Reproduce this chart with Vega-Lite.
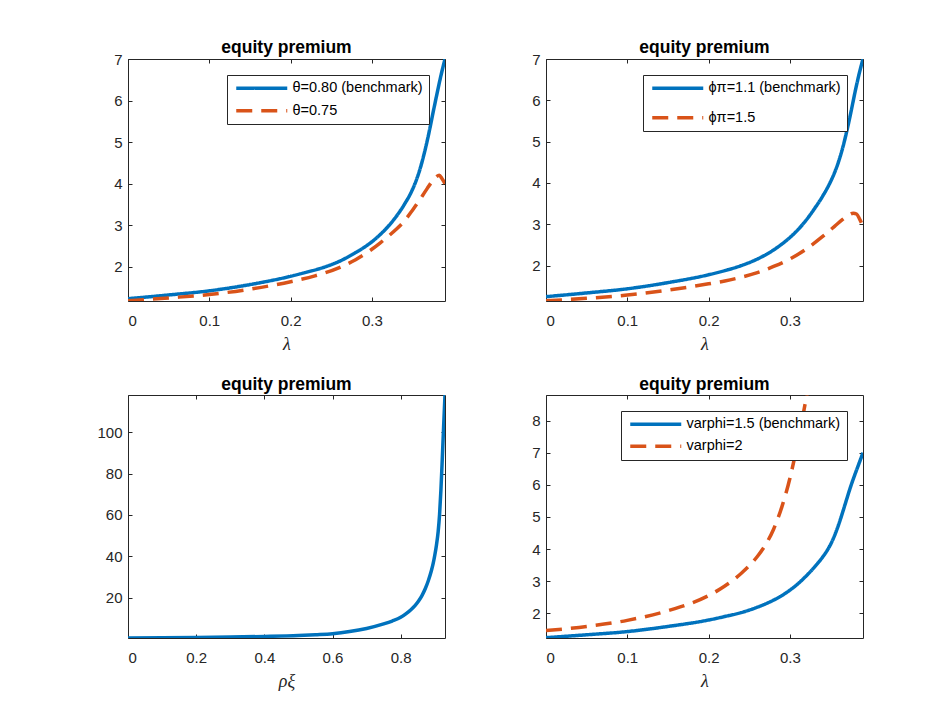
{
  "$schema": "https://vega.github.io/schema/vega-lite/v6.json",
  "background": "white",
  "padding": {"left": 96, "top": 38, "right": 10, "bottom": 5},
  "config": {
    "font": "Liberation Sans",
    "view": {"stroke": "#262626", "strokeWidth": 1},
    "axis": {
      "domain": false,
      "grid": false,
      "ticks": true,
      "tickColor": "#262626",
      "tickSize": -4,
      "tickWidth": 1,
      "labelColor": "#262626",
      "labelFont": "Liberation Sans",
      "labelFontSize": 15,
      "titleColor": "#262626",
      "titleFont": "Liberation Serif",
      "titleFontStyle": "italic",
      "titleFontWeight": "normal",
      "titleFontSize": 18,
      "titlePadding": 7,
      "minExtent": 0
    },
    "axisX": {"labelPadding": 16},
    "axisY": {"labelPadding": 10},
    "title": {"font": "Liberation Sans", "fontSize": 17.5, "fontWeight": "bold", "color": "black", "offset": -4, "anchor": "middle"},
    "legend": {
      "orient": "top-right",
      "offset": 16,
      "strokeColor": "#262626",
      "fillColor": "white",
      "padding": 6,
      "symbolType": "M-0.8,0H9.4",
      "symbolSize": 100,
      "symbolStrokeWidth": 3.5,
      "labelFont": "Liberation Sans",
      "labelFontSize": 14.5,
      "labelColor": "black",
      "labelOffset": 45,
      "rowPadding": 6.5,
      "title": null
    }
  },
  "datasets": {
    "p1": [
      {"x": 0, "v": 1.23, "s": "θ=0.80 (benchmark)"},
      {"x": 0.05, "v": 1.32, "s": "θ=0.80 (benchmark)"},
      {"x": 0.1, "v": 1.42, "s": "θ=0.80 (benchmark)"},
      {"x": 0.15, "v": 1.57, "s": "θ=0.80 (benchmark)"},
      {"x": 0.2, "v": 1.77, "s": "θ=0.80 (benchmark)"},
      {"x": 0.22, "v": 1.87, "s": "θ=0.80 (benchmark)"},
      {"x": 0.24, "v": 1.98, "s": "θ=0.80 (benchmark)"},
      {"x": 0.26, "v": 2.13, "s": "θ=0.80 (benchmark)"},
      {"x": 0.28, "v": 2.34, "s": "θ=0.80 (benchmark)"},
      {"x": 0.29, "v": 2.46, "s": "θ=0.80 (benchmark)"},
      {"x": 0.3, "v": 2.6, "s": "θ=0.80 (benchmark)"},
      {"x": 0.31, "v": 2.77, "s": "θ=0.80 (benchmark)"},
      {"x": 0.32, "v": 2.97, "s": "θ=0.80 (benchmark)"},
      {"x": 0.33, "v": 3.21, "s": "θ=0.80 (benchmark)"},
      {"x": 0.34, "v": 3.5, "s": "θ=0.80 (benchmark)"},
      {"x": 0.35, "v": 3.86, "s": "θ=0.80 (benchmark)"},
      {"x": 0.355, "v": 4.1, "s": "θ=0.80 (benchmark)"},
      {"x": 0.36, "v": 4.4, "s": "θ=0.80 (benchmark)"},
      {"x": 0.365, "v": 4.77, "s": "θ=0.80 (benchmark)"},
      {"x": 0.37, "v": 5.2, "s": "θ=0.80 (benchmark)"},
      {"x": 0.375, "v": 5.68, "s": "θ=0.80 (benchmark)"},
      {"x": 0.38, "v": 6.15, "s": "θ=0.80 (benchmark)"},
      {"x": 0.385, "v": 6.6, "s": "θ=0.80 (benchmark)"},
      {"x": 0.39, "v": 7.0, "s": "θ=0.80 (benchmark)"},
      {"x": 0, "v": 1.18, "s": "θ=0.75"},
      {"x": 0.05, "v": 1.25, "s": "θ=0.75"},
      {"x": 0.1, "v": 1.33, "s": "θ=0.75"},
      {"x": 0.15, "v": 1.46, "s": "θ=0.75"},
      {"x": 0.2, "v": 1.64, "s": "θ=0.75"},
      {"x": 0.23, "v": 1.78, "s": "θ=0.75"},
      {"x": 0.26, "v": 1.98, "s": "θ=0.75"},
      {"x": 0.28, "v": 2.17, "s": "θ=0.75"},
      {"x": 0.3, "v": 2.42, "s": "θ=0.75"},
      {"x": 0.31, "v": 2.57, "s": "θ=0.75"},
      {"x": 0.32, "v": 2.73, "s": "θ=0.75"},
      {"x": 0.33, "v": 2.9, "s": "θ=0.75"},
      {"x": 0.34, "v": 3.1, "s": "θ=0.75"},
      {"x": 0.35, "v": 3.36, "s": "θ=0.75"},
      {"x": 0.36, "v": 3.64, "s": "θ=0.75"},
      {"x": 0.368, "v": 3.88, "s": "θ=0.75"},
      {"x": 0.374, "v": 4.05, "s": "θ=0.75"},
      {"x": 0.379, "v": 4.16, "s": "θ=0.75"},
      {"x": 0.383, "v": 4.2, "s": "θ=0.75"},
      {"x": 0.386, "v": 4.13, "s": "θ=0.75"},
      {"x": 0.39, "v": 4.0, "s": "θ=0.75"}
    ],
    "p2": [
      {"x": 0, "v": 1.25, "s": "ϕπ=1.1 (benchmark)"},
      {"x": 0.05, "v": 1.34, "s": "ϕπ=1.1 (benchmark)"},
      {"x": 0.1, "v": 1.44, "s": "ϕπ=1.1 (benchmark)"},
      {"x": 0.15, "v": 1.59, "s": "ϕπ=1.1 (benchmark)"},
      {"x": 0.2, "v": 1.78, "s": "ϕπ=1.1 (benchmark)"},
      {"x": 0.22, "v": 1.88, "s": "ϕπ=1.1 (benchmark)"},
      {"x": 0.24, "v": 2.0, "s": "ϕπ=1.1 (benchmark)"},
      {"x": 0.26, "v": 2.16, "s": "ϕπ=1.1 (benchmark)"},
      {"x": 0.28, "v": 2.38, "s": "ϕπ=1.1 (benchmark)"},
      {"x": 0.29, "v": 2.52, "s": "ϕπ=1.1 (benchmark)"},
      {"x": 0.3, "v": 2.68, "s": "ϕπ=1.1 (benchmark)"},
      {"x": 0.31, "v": 2.87, "s": "ϕπ=1.1 (benchmark)"},
      {"x": 0.32, "v": 3.1, "s": "ϕπ=1.1 (benchmark)"},
      {"x": 0.33, "v": 3.37, "s": "ϕπ=1.1 (benchmark)"},
      {"x": 0.34, "v": 3.67, "s": "ϕπ=1.1 (benchmark)"},
      {"x": 0.35, "v": 4.03, "s": "ϕπ=1.1 (benchmark)"},
      {"x": 0.355, "v": 4.25, "s": "ϕπ=1.1 (benchmark)"},
      {"x": 0.36, "v": 4.52, "s": "ϕπ=1.1 (benchmark)"},
      {"x": 0.365, "v": 4.85, "s": "ϕπ=1.1 (benchmark)"},
      {"x": 0.37, "v": 5.25, "s": "ϕπ=1.1 (benchmark)"},
      {"x": 0.375, "v": 5.7, "s": "ϕπ=1.1 (benchmark)"},
      {"x": 0.38, "v": 6.18, "s": "ϕπ=1.1 (benchmark)"},
      {"x": 0.385, "v": 6.62, "s": "ϕπ=1.1 (benchmark)"},
      {"x": 0.39, "v": 7.0, "s": "ϕπ=1.1 (benchmark)"},
      {"x": 0, "v": 1.15, "s": "ϕπ=1.5"},
      {"x": 0.05, "v": 1.21, "s": "ϕπ=1.5"},
      {"x": 0.1, "v": 1.29, "s": "ϕπ=1.5"},
      {"x": 0.15, "v": 1.41, "s": "ϕπ=1.5"},
      {"x": 0.2, "v": 1.56, "s": "ϕπ=1.5"},
      {"x": 0.22, "v": 1.63, "s": "ϕπ=1.5"},
      {"x": 0.24, "v": 1.72, "s": "ϕπ=1.5"},
      {"x": 0.26, "v": 1.83, "s": "ϕπ=1.5"},
      {"x": 0.28, "v": 1.98, "s": "ϕπ=1.5"},
      {"x": 0.3, "v": 2.16, "s": "ϕπ=1.5"},
      {"x": 0.32, "v": 2.4, "s": "ϕπ=1.5"},
      {"x": 0.34, "v": 2.7, "s": "ϕπ=1.5"},
      {"x": 0.355, "v": 2.95, "s": "ϕπ=1.5"},
      {"x": 0.365, "v": 3.12, "s": "ϕπ=1.5"},
      {"x": 0.372, "v": 3.22, "s": "ϕπ=1.5"},
      {"x": 0.378, "v": 3.27, "s": "ϕπ=1.5"},
      {"x": 0.382, "v": 3.25, "s": "ϕπ=1.5"},
      {"x": 0.386, "v": 3.12, "s": "ϕπ=1.5"},
      {"x": 0.39, "v": 2.95, "s": "ϕπ=1.5"}
    ],
    "p3": [
      {"x": 0, "v": 0.5},
      {"x": 0.1, "v": 0.6},
      {"x": 0.2, "v": 0.75},
      {"x": 0.3, "v": 0.95},
      {"x": 0.4, "v": 1.25},
      {"x": 0.5, "v": 1.7},
      {"x": 0.55, "v": 2.1},
      {"x": 0.6, "v": 2.6},
      {"x": 0.65, "v": 3.6},
      {"x": 0.7, "v": 5.1},
      {"x": 0.75, "v": 7.3},
      {"x": 0.775, "v": 8.7},
      {"x": 0.8, "v": 10.5},
      {"x": 0.815, "v": 12.2},
      {"x": 0.83, "v": 14.2},
      {"x": 0.842, "v": 16.2},
      {"x": 0.852, "v": 18.3},
      {"x": 0.862, "v": 20.9},
      {"x": 0.872, "v": 24.3},
      {"x": 0.881, "v": 28.2},
      {"x": 0.89, "v": 33},
      {"x": 0.895, "v": 36.3},
      {"x": 0.9, "v": 40.5},
      {"x": 0.905, "v": 45.5},
      {"x": 0.91, "v": 52},
      {"x": 0.914, "v": 60},
      {"x": 0.918, "v": 72},
      {"x": 0.922, "v": 87},
      {"x": 0.926, "v": 103},
      {"x": 0.93, "v": 118}
    ],
    "p4": [
      {"x": 0, "v": 1.24, "s": "varphi=1.5 (benchmark)"},
      {"x": 0.05, "v": 1.33, "s": "varphi=1.5 (benchmark)"},
      {"x": 0.1, "v": 1.43, "s": "varphi=1.5 (benchmark)"},
      {"x": 0.15, "v": 1.59, "s": "varphi=1.5 (benchmark)"},
      {"x": 0.2, "v": 1.79, "s": "varphi=1.5 (benchmark)"},
      {"x": 0.22, "v": 1.9, "s": "varphi=1.5 (benchmark)"},
      {"x": 0.24, "v": 2.02, "s": "varphi=1.5 (benchmark)"},
      {"x": 0.26, "v": 2.19, "s": "varphi=1.5 (benchmark)"},
      {"x": 0.28, "v": 2.41, "s": "varphi=1.5 (benchmark)"},
      {"x": 0.29, "v": 2.55, "s": "varphi=1.5 (benchmark)"},
      {"x": 0.3, "v": 2.72, "s": "varphi=1.5 (benchmark)"},
      {"x": 0.31, "v": 2.92, "s": "varphi=1.5 (benchmark)"},
      {"x": 0.32, "v": 3.16, "s": "varphi=1.5 (benchmark)"},
      {"x": 0.33, "v": 3.43, "s": "varphi=1.5 (benchmark)"},
      {"x": 0.34, "v": 3.74, "s": "varphi=1.5 (benchmark)"},
      {"x": 0.345, "v": 3.92, "s": "varphi=1.5 (benchmark)"},
      {"x": 0.35, "v": 4.14, "s": "varphi=1.5 (benchmark)"},
      {"x": 0.355, "v": 4.42, "s": "varphi=1.5 (benchmark)"},
      {"x": 0.36, "v": 4.76, "s": "varphi=1.5 (benchmark)"},
      {"x": 0.365, "v": 5.15, "s": "varphi=1.5 (benchmark)"},
      {"x": 0.37, "v": 5.56, "s": "varphi=1.5 (benchmark)"},
      {"x": 0.375, "v": 5.96, "s": "varphi=1.5 (benchmark)"},
      {"x": 0.38, "v": 6.32, "s": "varphi=1.5 (benchmark)"},
      {"x": 0.385, "v": 6.66, "s": "varphi=1.5 (benchmark)"},
      {"x": 0.39, "v": 7.0, "s": "varphi=1.5 (benchmark)"},
      {"x": 0, "v": 1.46, "s": "varphi=2"},
      {"x": 0.05, "v": 1.59, "s": "varphi=2"},
      {"x": 0.1, "v": 1.78, "s": "varphi=2"},
      {"x": 0.15, "v": 2.08, "s": "varphi=2"},
      {"x": 0.2, "v": 2.55, "s": "varphi=2"},
      {"x": 0.21, "v": 2.69, "s": "varphi=2"},
      {"x": 0.22, "v": 2.85, "s": "varphi=2"},
      {"x": 0.23, "v": 3.03, "s": "varphi=2"},
      {"x": 0.24, "v": 3.24, "s": "varphi=2"},
      {"x": 0.25, "v": 3.48, "s": "varphi=2"},
      {"x": 0.26, "v": 3.77, "s": "varphi=2"},
      {"x": 0.27, "v": 4.13, "s": "varphi=2"},
      {"x": 0.28, "v": 4.62, "s": "varphi=2"},
      {"x": 0.29, "v": 5.3, "s": "varphi=2"},
      {"x": 0.3, "v": 6.2, "s": "varphi=2"},
      {"x": 0.305, "v": 6.75, "s": "varphi=2"},
      {"x": 0.31, "v": 7.35, "s": "varphi=2"},
      {"x": 0.315, "v": 8.0, "s": "varphi=2"},
      {"x": 0.32, "v": 8.68, "s": "varphi=2"},
      {"x": 0.321, "v": 8.8, "s": "varphi=2"}
    ]
  },
  "columns": 2,
  "bounds": "flush",
  "spacing": {"row": 94, "column": 101},
  "resolve": {"scale": {"color": "independent", "strokeDash": "independent"}},
  "concat": [
    {
      "width": 317, "height": 242,
      "title": "equity premium",
      "data": {"name": "p1"},
      "layer": [
        {
          "mark": {"type": "line", "strokeWidth": 3.5, "clip": true, "interpolate": "monotone"},
          "encoding": {
            "x": {"field": "x", "type": "quantitative", "scale": {"domain": [0, 0.39], "nice": false, "zero": false}, "axis": {"values": [0, 0.1, 0.2, 0.3], "format": "~g", "title": "λ"}},
            "y": {"field": "v", "type": "quantitative", "scale": {"domain": [1.175, 7], "nice": false, "zero": false}, "axis": {"values": [2, 3, 4, 5, 6, 7], "title": null}},
            "color": {"field": "s", "type": "nominal", "scale": {"domain": ["θ=0.80 (benchmark)", "θ=0.75"], "range": ["#0072BD", "#D95319"]}, "legend": {}},
            "strokeDash": {"field": "s", "type": "nominal", "scale": {"domain": ["θ=0.80 (benchmark)", "θ=0.75"], "range": [[1, 0], [16, 9]]}, "legend": {}}
          }
        },
        {
          "mark": {"type": "line", "strokeOpacity": 0},
          "encoding": {
            "x": {"field": "x", "type": "quantitative", "axis": {"orient": "top", "labels": false, "title": null, "values": [0, 0.1, 0.2, 0.3], "labelPadding": 0, "maxExtent": 0}},
            "y": {"field": "v", "type": "quantitative", "axis": {"orient": "right", "labels": false, "title": null, "values": [2, 3, 4, 5, 6, 7], "labelPadding": 0, "maxExtent": 0}},
            "detail": {"field": "s"}
          }
        }
      ],
      "resolve": {"axis": {"x": "independent", "y": "independent"}}
    },
    {
      "width": 317, "height": 242,
      "title": "equity premium",
      "data": {"name": "p2"},
      "layer": [
        {
          "mark": {"type": "line", "strokeWidth": 3.5, "clip": true, "interpolate": "monotone"},
          "encoding": {
            "x": {"field": "x", "type": "quantitative", "scale": {"domain": [0, 0.39], "nice": false, "zero": false}, "axis": {"values": [0, 0.1, 0.2, 0.3], "format": "~g", "title": "λ"}},
            "y": {"field": "v", "type": "quantitative", "scale": {"domain": [1.145, 7], "nice": false, "zero": false}, "axis": {"values": [2, 3, 4, 5, 6, 7], "title": null}},
            "color": {"field": "s", "type": "nominal", "scale": {"domain": ["ϕπ=1.1 (benchmark)", "ϕπ=1.5"], "range": ["#0072BD", "#D95319"]}, "legend": {"rowPadding": 13.5}},
            "strokeDash": {"field": "s", "type": "nominal", "scale": {"domain": ["ϕπ=1.1 (benchmark)", "ϕπ=1.5"], "range": [[1, 0], [16, 9]]}, "legend": {"rowPadding": 13.5}}
          }
        },
        {
          "mark": {"type": "line", "strokeOpacity": 0},
          "encoding": {
            "x": {"field": "x", "type": "quantitative", "axis": {"orient": "top", "labels": false, "title": null, "values": [0, 0.1, 0.2, 0.3], "labelPadding": 0, "maxExtent": 0}},
            "y": {"field": "v", "type": "quantitative", "axis": {"orient": "right", "labels": false, "title": null, "values": [2, 3, 4, 5, 6, 7], "labelPadding": 0, "maxExtent": 0}},
            "detail": {"field": "s"}
          }
        }
      ],
      "resolve": {"axis": {"x": "independent", "y": "independent"}}
    },
    {
      "width": 317, "height": 243,
      "title": {"text": "equity premium", "offset": 1},
      "data": {"name": "p3"},
      "layer": [
        {
          "mark": {"type": "line", "strokeWidth": 3.5, "clip": true, "color": "#0072BD", "interpolate": "monotone"},
          "encoding": {
            "x": {"field": "x", "type": "quantitative", "scale": {"domain": [0, 0.93], "nice": false, "zero": false}, "axis": {"values": [0, 0.2, 0.4, 0.6, 0.8], "format": "~g", "title": "ρξ"}},
            "y": {"field": "v", "type": "quantitative", "scale": {"domain": [0.5, 118], "nice": false, "zero": false}, "axis": {"values": [20, 40, 60, 80, 100], "title": null}}
          }
        },
        {
          "mark": {"type": "line", "strokeOpacity": 0},
          "encoding": {
            "x": {"field": "x", "type": "quantitative", "axis": {"orient": "top", "labels": false, "title": null, "values": [0, 0.2, 0.4, 0.6, 0.8], "labelPadding": 0, "maxExtent": 0}},
            "y": {"field": "v", "type": "quantitative", "axis": {"orient": "right", "labels": false, "title": null, "values": [20, 40, 60, 80, 100], "labelPadding": 0, "maxExtent": 0}}
          }
        }
      ],
      "resolve": {"axis": {"x": "independent", "y": "independent"}}
    },
    {
      "width": 317, "height": 243,
      "title": {"text": "equity premium", "offset": 1},
      "data": {"name": "p4"},
      "layer": [
        {
          "mark": {"type": "line", "strokeWidth": 3.5, "clip": true, "interpolate": "monotone"},
          "encoding": {
            "x": {"field": "x", "type": "quantitative", "scale": {"domain": [0, 0.39], "nice": false, "zero": false}, "axis": {"values": [0, 0.1, 0.2, 0.3], "format": "~g", "title": "λ"}},
            "y": {"field": "v", "type": "quantitative", "scale": {"domain": [1.23, 8.8], "nice": false, "zero": false}, "axis": {"values": [2, 3, 4, 5, 6, 7, 8], "title": null}},
            "color": {"field": "s", "type": "nominal", "scale": {"domain": ["varphi=1.5 (benchmark)", "varphi=2"], "range": ["#0072BD", "#D95319"]}, "legend": {"rowPadding": 6}},
            "strokeDash": {"field": "s", "type": "nominal", "scale": {"domain": ["varphi=1.5 (benchmark)", "varphi=2"], "range": [[1, 0], [16, 9]]}, "legend": {"rowPadding": 6}}
          }
        },
        {
          "mark": {"type": "line", "strokeOpacity": 0},
          "encoding": {
            "x": {"field": "x", "type": "quantitative", "axis": {"orient": "top", "labels": false, "title": null, "values": [0, 0.1, 0.2, 0.3], "labelPadding": 0, "maxExtent": 0}},
            "y": {"field": "v", "type": "quantitative", "axis": {"orient": "right", "labels": false, "title": null, "values": [2, 3, 4, 5, 6, 7, 8], "labelPadding": 0, "maxExtent": 0}},
            "detail": {"field": "s"}
          }
        }
      ],
      "resolve": {"axis": {"x": "independent", "y": "independent"}}
    }
  ]
}
